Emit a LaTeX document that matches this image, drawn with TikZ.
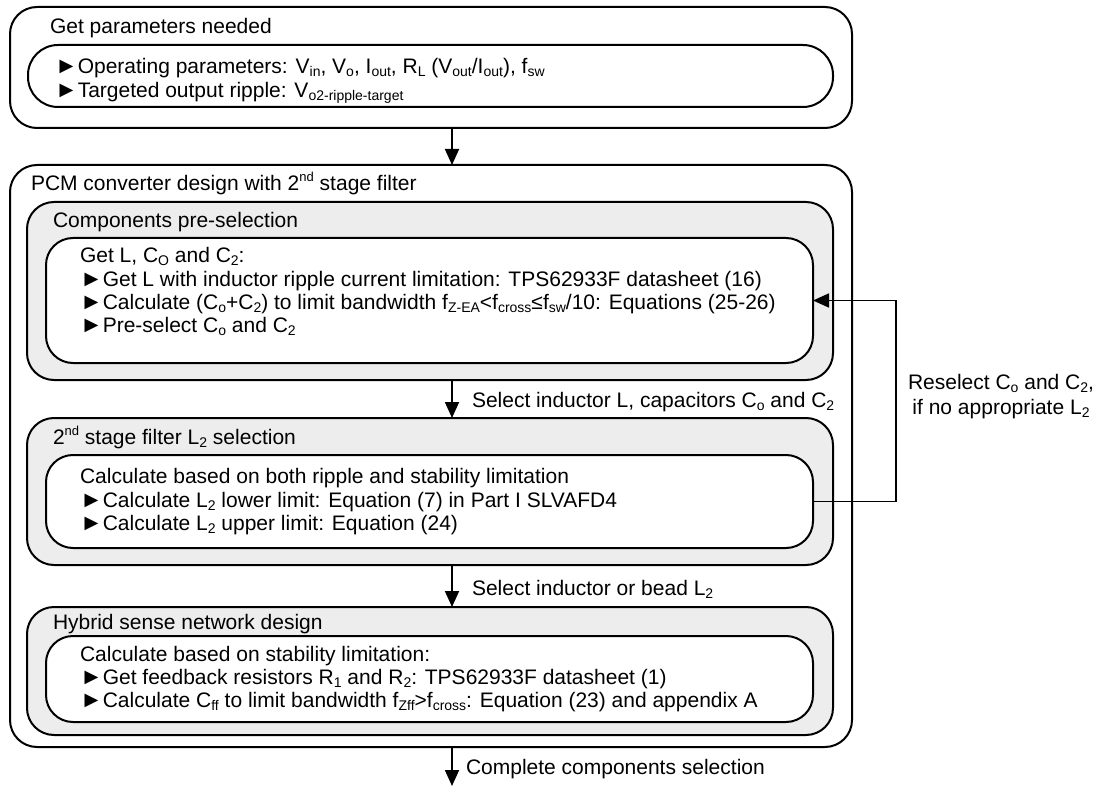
\documentclass[tikz,border=0pt]{standalone}
\usepackage{fontspec}
\setmainfont{Liberation Sans}
\usetikzlibrary{arrows.meta}
\newcommand\sbs[1]{\raisebox{-3pt}{\fontsize{14}{14}\selectfont #1}}
\newcommand\sps[1]{\raisebox{9pt}{\fontsize{13}{13}\selectfont #1}}
\newcommand\tri{{\fontsize{23}{20}\selectfont ►}}
\definecolor{boxgray}{RGB}{237,237,237}
\begin{document}
\begin{tikzpicture}[x=1pt,y=-1pt,
  box/.style={draw, line width=2pt, rounded corners=27pt, anchor=north west,
    inner sep=0pt, outer sep=0pt, fill=white},
  graybox/.style={box, fill=boxgray},
  txt/.style={anchor=base west, inner sep=0pt, outer sep=0pt,
    font=\fontsize{21}{23}\selectfont},
  arr/.style={line width=1.8pt, -{Triangle[width=14pt,length=16pt]}}]
\useasboundingbox (0,0) rectangle (1095,786);
\coordinate (ax) at (452,0);
% top block
\node[box, minimum width=842pt, minimum height=121pt] (top) at (10,7) {};
\node[box, rounded corners=30pt, minimum width=805pt, minimum height=62pt] (topin) at (28,45) {};
\node[txt] (t0) at (50,33.5) {Get parameters needed};
\node[txt] (t1) at (55,73.5) {\tri Operating parameters: V\sbs{in}, V\sbs{o}, I\sbs{out}, R\sbs{L} (V\sbs{out}/I\sbs{out}), f\sbs{sw}};
\node[txt] (t2) at (55,97.5) {\tri Targeted output ripple: V\sbs{o2-ripple-target}};
% PCM block
\node[box, minimum width=842pt, minimum height=582pt] (pcm) at (10,165) {};
\node[txt] (p0) at (31,191) {PCM converter design with 2\sps{nd} stage filter};
% components pre-selection
\node[graybox, minimum width=806pt, minimum height=178pt] (comp) at (27,202) {};
\node[txt] (c0) at (53,227.5) {Components pre-selection};
\node[box, minimum width=767pt, minimum height=125pt] (compin) at (46,238) {};
\node[txt] (c1) at (80,263) {Get L, C\sbs{O} and C\sbs{2}:};
\node[txt] (c2) at (80,286.5) {\tri Get L with inductor ripple current limitation: TPS62933F datasheet (16)};
\node[txt] (c3) at (80,309) {\tri Calculate (C\sbs{o}+C\sbs{2}) to limit bandwidth f\sbs{Z-EA}<f\sbs{cross}≤f\sbs{sw}/10: Equations (25-26)};
\node[txt] (c4) at (80,332) {\tri Pre-select C\sbs{o} and C\sbs{2}};
% second stage
\node[graybox, minimum width=806pt, minimum height=147pt] (sec) at (27,418) {};
\node[txt] (s0) at (53,444.5) {2\sps{nd} stage filter L\sbs{2} selection};
\node[box, minimum width=767pt, minimum height=93pt] (secin) at (46,455) {};
\node[txt] (s1) at (80,483) {Calculate based on both ripple and stability limitation};
\node[txt] (s2) at (80,507) {\tri Calculate L\sbs{2} lower limit: Equation (7) in Part I SLVAFD4};
\node[txt] (s3) at (80,530) {\tri Calculate L\sbs{2} upper limit: Equation (24)};
% hybrid
\node[graybox, minimum width=806pt, minimum height=128pt] (hyb) at (27,607) {};
\node[txt] (h0) at (53,629) {Hybrid sense network design};
\node[box, minimum width=767pt, minimum height=86pt] (hybin) at (46,636) {};
\node[txt] (h1) at (80,661.5) {Calculate based on stability limitation:};
\node[txt] (h2) at (80,684.5) {\tri Get feedback resistors R\sbs{1} and R\sbs{2}: TPS62933F datasheet (1)};
\node[txt] (h3) at (80,707.5) {\tri Calculate C\sbs{ff} to limit bandwidth f\sbs{Zff}>f\sbs{cross}: Equation (23) and appendix A};
% connectors
\coordinate (bend) at (452,786);
\draw[arr] (top.south -| ax) -- (pcm.north -| ax);
\draw[arr] (comp.south -| ax) -- (sec.north -| ax);
\draw[arr] (sec.south -| ax) -- (hyb.north -| ax);
\draw[arr] (pcm.south -| ax) -- (bend);
\draw[arr] (secin.east) -- ++(83,0) |- (compin.east);
% labels
\node[txt] (l1) at (472,407.5) {Select inductor L, capacitors C\sbs{o} and C\sbs{2}};
\node[txt] (l2) at (472,595.5) {Select inductor or bead L\sbs{2}};
\node[txt] (l3) at (466,774.5) {Complete components selection};
\node[anchor=center, inner sep=0pt, align=center, font=\fontsize{21}{25}\selectfont] (fbl) at (1001,397) {Reselect C\sbs{o} and C\sbs{2},\\if no appropriate L\sbs{2}};
\end{tikzpicture}
\end{document}
